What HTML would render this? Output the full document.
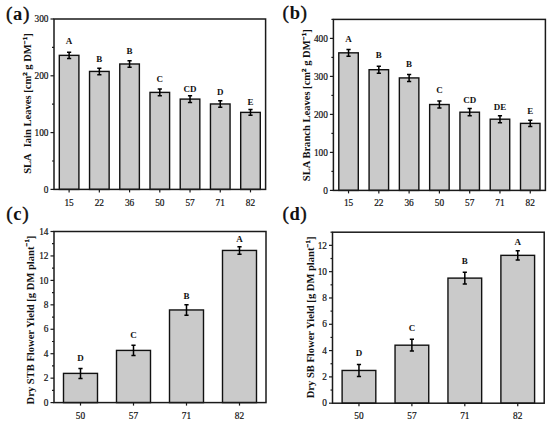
<!DOCTYPE html>
<html><head><meta charset="utf-8"><style>
html,body{margin:0;padding:0;background:#fff;width:550px;height:424px;overflow:hidden}
svg{display:block}
text{font-family:"Liberation Serif",serif;fill:#111}
.tk{font-size:9.3px;fill:#111;stroke:#111;stroke-width:0.2px}
.let{font-size:9.0px;font-weight:bold;text-anchor:middle}
.yl{font-size:10.55px;font-weight:bold}
.sup{font-size:6.963000000000001px;stroke:#111;stroke-width:0.35px}
.pl{font-size:19.4px;letter-spacing:0.6px;stroke:#000;stroke-width:0.35px}
.plb{font-weight:bold;font-size:18.5px;stroke:none}
</style></head><body>
<svg width="550" height="424" viewBox="0 0 550 424" shape-rendering="auto">
<rect x="59.31" y="55.35" width="19.6" height="134.05" fill="#cacaca" stroke="#111" stroke-width="1.4"/>
<path d="M69.11 52.15V58.55M67.01 52.15H71.21M67.01 58.55H71.21" stroke="#000" stroke-width="1.5" fill="none"/>
<text x="69.11" y="44.4" class="let">A</text>
<path d="M69.11 189.4V192.4" stroke="#1a1a1a" stroke-width="1.2"/>
<text x="69.11" y="205.6" class="tk" text-anchor="middle">15</text>
<rect x="89.54" y="71.43" width="19.6" height="117.97" fill="#cacaca" stroke="#111" stroke-width="1.4"/>
<path d="M99.34 68.23V74.63M97.24 68.23H101.44M97.24 74.63H101.44" stroke="#000" stroke-width="1.5" fill="none"/>
<text x="99.34" y="62" class="let">B</text>
<path d="M99.34 189.4V192.4" stroke="#1a1a1a" stroke-width="1.2"/>
<text x="99.34" y="205.6" class="tk" text-anchor="middle">22</text>
<rect x="119.77" y="63.99" width="19.6" height="125.41" fill="#cacaca" stroke="#111" stroke-width="1.4"/>
<path d="M129.57 60.79V67.19M127.47 60.79H131.67M127.47 67.19H131.67" stroke="#000" stroke-width="1.5" fill="none"/>
<text x="129.57" y="53.6" class="let">B</text>
<path d="M129.57 189.4V192.4" stroke="#1a1a1a" stroke-width="1.2"/>
<text x="129.57" y="205.6" class="tk" text-anchor="middle">36</text>
<rect x="150" y="92.39" width="19.6" height="97.01" fill="#cacaca" stroke="#111" stroke-width="1.4"/>
<path d="M159.8 89.09V95.69M157.7 89.09H161.9M157.7 95.69H161.9" stroke="#000" stroke-width="1.5" fill="none"/>
<text x="159.8" y="82.4" class="let">C</text>
<path d="M159.8 189.4V192.4" stroke="#1a1a1a" stroke-width="1.2"/>
<text x="159.8" y="205.6" class="tk" text-anchor="middle">50</text>
<rect x="180.23" y="99.09" width="19.6" height="90.31" fill="#cacaca" stroke="#111" stroke-width="1.4"/>
<path d="M190.03 95.69V102.49M187.93 95.69H192.13M187.93 102.49H192.13" stroke="#000" stroke-width="1.5" fill="none"/>
<text x="190.03" y="91.6" class="let">CD</text>
<path d="M190.03 189.4V192.4" stroke="#1a1a1a" stroke-width="1.2"/>
<text x="190.03" y="205.6" class="tk" text-anchor="middle">57</text>
<rect x="210.46" y="103.97" width="19.6" height="85.43" fill="#cacaca" stroke="#111" stroke-width="1.4"/>
<path d="M220.26 100.77V107.17M218.16 100.77H222.36M218.16 107.17H222.36" stroke="#000" stroke-width="1.5" fill="none"/>
<text x="220.26" y="95" class="let">D</text>
<path d="M220.26 189.4V192.4" stroke="#1a1a1a" stroke-width="1.2"/>
<text x="220.26" y="205.6" class="tk" text-anchor="middle">71</text>
<rect x="240.69" y="112.38" width="19.6" height="77.02" fill="#cacaca" stroke="#111" stroke-width="1.4"/>
<path d="M250.49 109.58V115.18M248.39 109.58H252.59M248.39 115.18H252.59" stroke="#000" stroke-width="1.5" fill="none"/>
<text x="250.49" y="105" class="let">E</text>
<path d="M250.49 189.4V192.4" stroke="#1a1a1a" stroke-width="1.2"/>
<text x="250.49" y="205.6" class="tk" text-anchor="middle">82</text>
<path d="M50.5 189.4H54" stroke="#1a1a1a" stroke-width="1.2"/>
<text x="48.5" y="192.6" class="tk" text-anchor="end">0</text>
<path d="M52 161H54" stroke="#1a1a1a" stroke-width="1.2"/>
<path d="M50.5 132.6H54" stroke="#1a1a1a" stroke-width="1.2"/>
<text x="48.5" y="135.8" class="tk" text-anchor="end">100</text>
<path d="M52 104.2H54" stroke="#1a1a1a" stroke-width="1.2"/>
<path d="M50.5 75.8H54" stroke="#1a1a1a" stroke-width="1.2"/>
<text x="48.5" y="79" class="tk" text-anchor="end">200</text>
<path d="M52 47.4H54" stroke="#1a1a1a" stroke-width="1.2"/>
<path d="M50.5 19H54" stroke="#1a1a1a" stroke-width="1.2"/>
<text x="48.5" y="22.2" class="tk" text-anchor="end">300</text>
<rect x="54" y="19" width="211.6" height="170.4" fill="none" stroke="#1a1a1a" stroke-width="1.5"/>
<text class="yl" text-anchor="middle" transform="translate(31 103.5) rotate(-90)" x="0" y="0"><tspan>SLA</tspan><tspan dx="6">Iain Leaves [cm</tspan><tspan class="sup" dy="-4.2">2</tspan><tspan dy="4.2"> g DM</tspan><tspan class="sup" dy="-4.2">−1</tspan><tspan dy="4.2">]</tspan></text>
<text class="pl" x="6" y="20">(<tspan class="plb">a</tspan>)</text>
<rect x="338.79" y="52.84" width="19.5" height="137.56" fill="#cacaca" stroke="#111" stroke-width="1.4"/>
<path d="M348.54 49.54V56.14M346.44 49.54H350.64M346.44 56.14H350.64" stroke="#000" stroke-width="1.5" fill="none"/>
<text x="348.54" y="41.6" class="let">A</text>
<path d="M348.54 190.4V193.4" stroke="#1a1a1a" stroke-width="1.2"/>
<text x="348.54" y="205.6" class="tk" text-anchor="middle">15</text>
<rect x="369.08" y="69.71" width="19.5" height="120.69" fill="#cacaca" stroke="#111" stroke-width="1.4"/>
<path d="M378.83 66.21V73.21M376.73 66.21H380.93M376.73 73.21H380.93" stroke="#000" stroke-width="1.5" fill="none"/>
<text x="378.83" y="58.2" class="let">B</text>
<path d="M378.83 190.4V193.4" stroke="#1a1a1a" stroke-width="1.2"/>
<text x="378.83" y="205.6" class="tk" text-anchor="middle">22</text>
<rect x="399.36" y="77.92" width="19.5" height="112.48" fill="#cacaca" stroke="#111" stroke-width="1.4"/>
<path d="M409.11 74.42V81.42M407.01 74.42H411.21M407.01 81.42H411.21" stroke="#000" stroke-width="1.5" fill="none"/>
<text x="409.11" y="67.2" class="let">B</text>
<path d="M409.11 190.4V193.4" stroke="#1a1a1a" stroke-width="1.2"/>
<text x="409.11" y="205.6" class="tk" text-anchor="middle">36</text>
<rect x="429.65" y="104.52" width="19.5" height="85.88" fill="#cacaca" stroke="#111" stroke-width="1.4"/>
<path d="M439.4 100.97V108.07M437.3 100.97H441.5M437.3 108.07H441.5" stroke="#000" stroke-width="1.5" fill="none"/>
<text x="439.4" y="92.6" class="let">C</text>
<path d="M439.4 190.4V193.4" stroke="#1a1a1a" stroke-width="1.2"/>
<text x="439.4" y="205.6" class="tk" text-anchor="middle">50</text>
<rect x="459.94" y="112.2" width="19.5" height="78.2" fill="#cacaca" stroke="#111" stroke-width="1.4"/>
<path d="M469.69 108.55V115.85M467.59 108.55H471.79M467.59 115.85H471.79" stroke="#000" stroke-width="1.5" fill="none"/>
<text x="469.69" y="103" class="let">CD</text>
<path d="M469.69 190.4V193.4" stroke="#1a1a1a" stroke-width="1.2"/>
<text x="469.69" y="205.6" class="tk" text-anchor="middle">57</text>
<rect x="490.22" y="119.19" width="19.5" height="71.21" fill="#cacaca" stroke="#111" stroke-width="1.4"/>
<path d="M499.97 115.64V122.74M497.87 115.64H502.07M497.87 122.74H502.07" stroke="#000" stroke-width="1.5" fill="none"/>
<text x="499.97" y="109.8" class="let">DE</text>
<path d="M499.97 190.4V193.4" stroke="#1a1a1a" stroke-width="1.2"/>
<text x="499.97" y="205.6" class="tk" text-anchor="middle">71</text>
<rect x="520.51" y="123.37" width="19.5" height="67.03" fill="#cacaca" stroke="#111" stroke-width="1.4"/>
<path d="M530.26 120.22V126.52M528.16 120.22H532.36M528.16 126.52H532.36" stroke="#000" stroke-width="1.5" fill="none"/>
<text x="530.26" y="113.6" class="let">E</text>
<path d="M530.26 190.4V193.4" stroke="#1a1a1a" stroke-width="1.2"/>
<text x="530.26" y="205.6" class="tk" text-anchor="middle">82</text>
<path d="M329.9 190.4H333.4" stroke="#1a1a1a" stroke-width="1.2"/>
<text x="327.9" y="193.6" class="tk" text-anchor="end">0</text>
<path d="M331.4 171.4H333.4" stroke="#1a1a1a" stroke-width="1.2"/>
<path d="M329.9 152.4H333.4" stroke="#1a1a1a" stroke-width="1.2"/>
<text x="327.9" y="155.6" class="tk" text-anchor="end">100</text>
<path d="M331.4 133.4H333.4" stroke="#1a1a1a" stroke-width="1.2"/>
<path d="M329.9 114.4H333.4" stroke="#1a1a1a" stroke-width="1.2"/>
<text x="327.9" y="117.6" class="tk" text-anchor="end">200</text>
<path d="M331.4 95.4H333.4" stroke="#1a1a1a" stroke-width="1.2"/>
<path d="M329.9 76.4H333.4" stroke="#1a1a1a" stroke-width="1.2"/>
<text x="327.9" y="79.6" class="tk" text-anchor="end">300</text>
<path d="M331.4 57.4H333.4" stroke="#1a1a1a" stroke-width="1.2"/>
<path d="M329.9 38.4H333.4" stroke="#1a1a1a" stroke-width="1.2"/>
<text x="327.9" y="41.6" class="tk" text-anchor="end">400</text>
<path d="M331.4 19.4H333.4" stroke="#1a1a1a" stroke-width="1.2"/>
<rect x="333.4" y="19.4" width="212" height="171" fill="none" stroke="#1a1a1a" stroke-width="1.5"/>
<text class="yl" text-anchor="middle" transform="translate(310.3 105.25) rotate(-90)" x="0" y="0"><tspan>SLA Branch Leaves [cm</tspan><tspan class="sup" dy="-4.2">2</tspan><tspan dy="4.2"> g DM</tspan><tspan class="sup" dy="-4.2">−1</tspan><tspan dy="4.2">]</tspan></text>
<text class="pl" x="282.6" y="19.4">(<tspan class="plb">b</tspan>)</text>
<rect x="63.5" y="373.39" width="34" height="29.21" fill="#cacaca" stroke="#111" stroke-width="1.4"/>
<path d="M80.5 368.39V378.39M78.4 368.39H82.6M78.4 378.39H82.6" stroke="#000" stroke-width="1.5" fill="none"/>
<text x="80.5" y="361" class="let">D</text>
<path d="M80.5 402.6V405.6" stroke="#1a1a1a" stroke-width="1.2"/>
<text x="80.5" y="418.8" class="tk" text-anchor="middle">50</text>
<rect x="116.5" y="350.41" width="34" height="52.19" fill="#cacaca" stroke="#111" stroke-width="1.4"/>
<path d="M133.5 345.21V355.61M131.4 345.21H135.6M131.4 355.61H135.6" stroke="#000" stroke-width="1.5" fill="none"/>
<text x="133.5" y="338.4" class="let">C</text>
<path d="M133.5 402.6V405.6" stroke="#1a1a1a" stroke-width="1.2"/>
<text x="133.5" y="418.8" class="tk" text-anchor="middle">57</text>
<rect x="169.5" y="309.96" width="34" height="92.64" fill="#cacaca" stroke="#111" stroke-width="1.4"/>
<path d="M186.5 304.76V315.16M184.4 304.76H188.6M184.4 315.16H188.6" stroke="#000" stroke-width="1.5" fill="none"/>
<text x="186.5" y="299" class="let">B</text>
<path d="M186.5 402.6V405.6" stroke="#1a1a1a" stroke-width="1.2"/>
<text x="186.5" y="418.8" class="tk" text-anchor="middle">71</text>
<rect x="222.5" y="250.44" width="34" height="152.16" fill="#cacaca" stroke="#111" stroke-width="1.4"/>
<path d="M239.5 246.74V254.14M237.4 246.74H241.6M237.4 254.14H241.6" stroke="#000" stroke-width="1.5" fill="none"/>
<text x="239.5" y="242" class="let">A</text>
<path d="M239.5 402.6V405.6" stroke="#1a1a1a" stroke-width="1.2"/>
<text x="239.5" y="418.8" class="tk" text-anchor="middle">82</text>
<path d="M50.5 402.6H54" stroke="#1a1a1a" stroke-width="1.2"/>
<text x="48.5" y="405.8" class="tk" text-anchor="end">0</text>
<path d="M52 390.38H54" stroke="#1a1a1a" stroke-width="1.2"/>
<path d="M50.5 378.16H54" stroke="#1a1a1a" stroke-width="1.2"/>
<text x="48.5" y="381.36" class="tk" text-anchor="end">2</text>
<path d="M52 365.94H54" stroke="#1a1a1a" stroke-width="1.2"/>
<path d="M50.5 353.71H54" stroke="#1a1a1a" stroke-width="1.2"/>
<text x="48.5" y="356.91" class="tk" text-anchor="end">4</text>
<path d="M52 341.49H54" stroke="#1a1a1a" stroke-width="1.2"/>
<path d="M50.5 329.27H54" stroke="#1a1a1a" stroke-width="1.2"/>
<text x="48.5" y="332.47" class="tk" text-anchor="end">6</text>
<path d="M52 317.05H54" stroke="#1a1a1a" stroke-width="1.2"/>
<path d="M50.5 304.83H54" stroke="#1a1a1a" stroke-width="1.2"/>
<text x="48.5" y="308.03" class="tk" text-anchor="end">8</text>
<path d="M52 292.61H54" stroke="#1a1a1a" stroke-width="1.2"/>
<path d="M50.5 280.39H54" stroke="#1a1a1a" stroke-width="1.2"/>
<text x="48.5" y="283.59" class="tk" text-anchor="end">10</text>
<path d="M52 268.16H54" stroke="#1a1a1a" stroke-width="1.2"/>
<path d="M50.5 255.94H54" stroke="#1a1a1a" stroke-width="1.2"/>
<text x="48.5" y="259.14" class="tk" text-anchor="end">12</text>
<path d="M52 243.72H54" stroke="#1a1a1a" stroke-width="1.2"/>
<path d="M50.5 231.5H54" stroke="#1a1a1a" stroke-width="1.2"/>
<text x="48.5" y="234.7" class="tk" text-anchor="end">14</text>
<rect x="54" y="231.5" width="212" height="171.1" fill="none" stroke="#1a1a1a" stroke-width="1.5"/>
<text class="yl" text-anchor="middle" transform="translate(33.5 320) rotate(-90)" x="0" y="0"><tspan>Dry STB Flower Yield [g DM plant</tspan><tspan class="sup" dy="-4.2">−1</tspan><tspan dy="4.2">]</tspan></text>
<text class="pl" x="6.3" y="219.7">(<tspan class="plb">c</tspan>)</text>
<rect x="342.11" y="370.45" width="33.7" height="32.75" fill="#cacaca" stroke="#111" stroke-width="1.4"/>
<path d="M358.96 364.45V376.45M356.86 364.45H361.06M356.86 376.45H361.06" stroke="#000" stroke-width="1.5" fill="none"/>
<text x="358.96" y="356.4" class="let">D</text>
<path d="M358.96 403.2V406.2" stroke="#1a1a1a" stroke-width="1.2"/>
<text x="358.96" y="419" class="tk" text-anchor="middle">50</text>
<rect x="395.04" y="345.19" width="33.7" height="58.01" fill="#cacaca" stroke="#111" stroke-width="1.4"/>
<path d="M411.89 339.29V351.09M409.79 339.29H413.99M409.79 351.09H413.99" stroke="#000" stroke-width="1.5" fill="none"/>
<text x="411.89" y="331" class="let">C</text>
<path d="M411.89 403.2V406.2" stroke="#1a1a1a" stroke-width="1.2"/>
<text x="411.89" y="419" class="tk" text-anchor="middle">57</text>
<rect x="447.96" y="278.11" width="33.7" height="125.09" fill="#cacaca" stroke="#111" stroke-width="1.4"/>
<path d="M464.81 272.31V283.91M462.71 272.31H466.91M462.71 283.91H466.91" stroke="#000" stroke-width="1.5" fill="none"/>
<text x="464.81" y="264" class="let">B</text>
<path d="M464.81 403.2V406.2" stroke="#1a1a1a" stroke-width="1.2"/>
<text x="464.81" y="419" class="tk" text-anchor="middle">71</text>
<rect x="500.89" y="255.35" width="33.7" height="147.85" fill="#cacaca" stroke="#111" stroke-width="1.4"/>
<path d="M517.74 250.75V259.95M515.64 250.75H519.84M515.64 259.95H519.84" stroke="#000" stroke-width="1.5" fill="none"/>
<text x="517.74" y="245" class="let">A</text>
<path d="M517.74 403.2V406.2" stroke="#1a1a1a" stroke-width="1.2"/>
<text x="517.74" y="419" class="tk" text-anchor="middle">82</text>
<path d="M329 403.2H332.5" stroke="#1a1a1a" stroke-width="1.2"/>
<text x="327" y="406.4" class="tk" text-anchor="end">0</text>
<path d="M330.5 390.05H332.5" stroke="#1a1a1a" stroke-width="1.2"/>
<path d="M329 376.89H332.5" stroke="#1a1a1a" stroke-width="1.2"/>
<text x="327" y="380.09" class="tk" text-anchor="end">2</text>
<path d="M330.5 363.74H332.5" stroke="#1a1a1a" stroke-width="1.2"/>
<path d="M329 350.58H332.5" stroke="#1a1a1a" stroke-width="1.2"/>
<text x="327" y="353.78" class="tk" text-anchor="end">4</text>
<path d="M330.5 337.43H332.5" stroke="#1a1a1a" stroke-width="1.2"/>
<path d="M329 324.28H332.5" stroke="#1a1a1a" stroke-width="1.2"/>
<text x="327" y="327.48" class="tk" text-anchor="end">6</text>
<path d="M330.5 311.12H332.5" stroke="#1a1a1a" stroke-width="1.2"/>
<path d="M329 297.97H332.5" stroke="#1a1a1a" stroke-width="1.2"/>
<text x="327" y="301.17" class="tk" text-anchor="end">8</text>
<path d="M330.5 284.82H332.5" stroke="#1a1a1a" stroke-width="1.2"/>
<path d="M329 271.66H332.5" stroke="#1a1a1a" stroke-width="1.2"/>
<text x="327" y="274.86" class="tk" text-anchor="end">10</text>
<path d="M330.5 258.51H332.5" stroke="#1a1a1a" stroke-width="1.2"/>
<path d="M329 245.35H332.5" stroke="#1a1a1a" stroke-width="1.2"/>
<text x="327" y="248.55" class="tk" text-anchor="end">12</text>
<path d="M330.5 232.2H332.5" stroke="#1a1a1a" stroke-width="1.2"/>
<rect x="332.5" y="232.2" width="211.7" height="171" fill="none" stroke="#1a1a1a" stroke-width="1.5"/>
<text class="yl" text-anchor="middle" transform="translate(314 317.45) rotate(-90)" x="0" y="0"><tspan>Dry SB Flower Yield [g DM plant</tspan><tspan class="sup" dy="-4.2">−1</tspan><tspan dy="4.2">]</tspan></text>
<text class="pl" x="282.4" y="219.7">(<tspan class="plb">d</tspan>)</text>
</svg>
</body></html>
